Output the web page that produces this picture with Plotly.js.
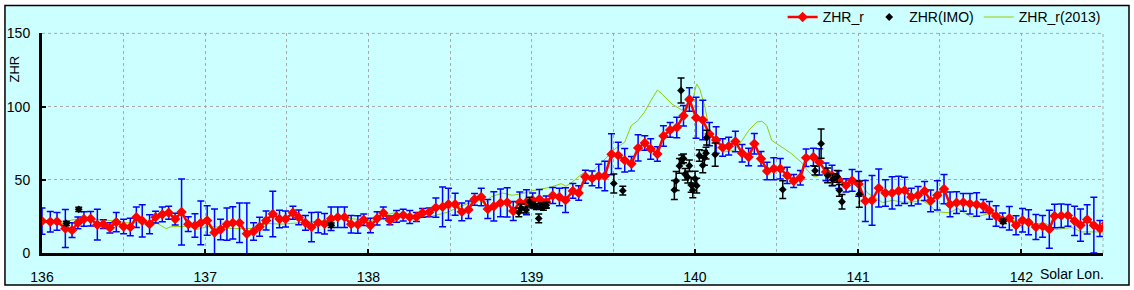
<!DOCTYPE html>
<html>
<head>
<meta charset="utf-8">
<script src="https://cdn.plot.ly/plotly-3.0.1.min.js"></script>
<style>html,body{margin:0;padding:0;background:#fff}#chart{width:1134px;height:290px}</style>
</head>
<body>
<div id="chart"></div>
<script>
// ZHR_r (red) : solar longitude, ZHR, error
const zhrR_lon = [136.000,136.051,136.092,136.143,136.184,136.220,136.257,136.298,136.339,136.376,136.416,136.455,136.500,136.541,136.578,136.614,136.659,136.696,136.737,136.776,136.816,136.855,136.896,136.937,136.973,137.012,137.057,137.094,137.133,137.169,137.210,137.255,137.296,137.333,137.373,137.414,137.455,137.492,137.537,137.573,137.614,137.651,137.692,137.731,137.771,137.812,137.853,137.894,137.935,137.971,138.012,138.053,138.091,138.131,138.172,138.213,138.253,138.294,138.331,138.372,138.413,138.454,138.490,138.531,138.572,138.613,138.650,138.691,138.731,138.768,138.809,138.850,138.887,138.927,138.968,139.006,139.047,139.089,139.129,139.170,139.207,139.252,139.288,139.329,139.370,139.411,139.448,139.489,139.530,139.570,139.611,139.652,139.693,139.729,139.770,139.807,139.848,139.889,139.930,139.966,140.007,140.048,140.089,140.130,140.170,140.207,140.248,140.289,140.329,140.364,140.405,140.442,140.483,140.523,140.565,140.605,140.646,140.681,140.726,140.762,140.803,140.840,140.881,140.926,140.963,141.003,141.044,141.085,141.126,141.167,141.208,141.248,141.285,141.326,141.367,141.407,141.444,141.485,141.526,141.563,141.603,141.644,141.685,141.726,141.767,141.804,141.845,141.885,141.926,141.967,142.007,142.044,142.089,142.130,142.171,142.203,142.244,142.285,142.326,142.362,142.403,142.444,142.481,142.518];
const zhrR_val = [21.8,21.3,21.6,16.7,15.6,20.6,23.2,23.4,19.3,19.7,17.2,21.1,18.1,17.7,24.5,22.0,19.7,24.5,26.4,27.5,23.2,28.0,19.7,18.8,20.6,22.2,14.0,16.1,19.7,20.6,20.6,13.1,14.7,17.9,22.2,26.6,23.2,23.2,27.5,24.3,20.6,17.7,20.9,20.0,23.4,24.5,24.5,19.7,19.5,22.7,18.8,23.6,27.4,22.3,25.0,25.9,24.6,24.6,27.4,27.8,31.0,31.5,33.3,33.3,28.1,29.6,36.7,38.3,30.1,31.9,34.2,34.6,28.7,34.6,34.7,36.0,36.8,34.9,39.3,38.3,36.1,42.4,41.0,52.1,51.0,52.6,52.6,67.5,66.7,63.3,61.0,71.8,75.1,71.1,67.6,80.0,84.1,85.8,93.8,104.9,92.4,90.9,81.2,77.2,72.1,73.0,76.2,68.1,65.6,74.7,64.4,56.0,57.6,57.6,53.0,49.2,51.4,65.0,65.6,62.2,55.4,53.0,50.1,46.2,49.6,47.2,35.6,36.0,44.4,41.0,41.0,42.4,42.8,38.3,39.4,42.4,35.6,39.4,43.7,33.2,34.4,34.6,33.7,33.1,32.1,29.1,25.3,22.4,23.7,19.0,22.4,21.0,17.8,18.2,16.2,25.3,25.5,25.7,21.9,19.0,22.9,19.0,16.7,20.1];
const zhrR_err = [9,7,6,13,5,4,5,5,10.5,3,3.5,6.5,5,6,7,11,6.5,4,5,4.5,4,22.5,5,8,15,10,16,7,11,11,13.5,21,6,6.5,6.5,15.5,6,5.5,4.5,5,5,10,7,7,8,7,7,6,6,4,5,4.5,4,3,4,4,4.5,3,3,3,6.5,13.5,11,7.5,6,6,4,6,6.5,10,9.5,10,6.5,7,8.5,5,6.5,4,5.5,6,8.5,5,5,4.5,5,8,10,14,9,8,5,9,5,7,5,7,5,7,7,8,14,13.5,8,9,6,6,7,6,6,7,5,6,7.5,7,5.5,4.5,5,6,6,9,6,7,6,4.5,7.5,8.5,14,17,13,9,11,10,9,6,6,6.5,7.5,10,10,8.5,7.5,6,7,8,4.5,6,7,5,8,6.5,8,8.5,8.5,7.5,13,8,8,7.5,10,11,10,19,5.5,5];

// ZHR(IMO) (black)
const imo_lon = [136.149,136.225,137.772,138.921,138.936,138.966,138.986,139.007,139.028,139.043,139.058,139.072,139.089,139.503,139.558,139.874,139.885,139.905,139.915,139.919,139.930,139.940,139.956,139.966,139.977,139.987,140.001,140.011,140.027,140.048,140.058,140.068,140.072,140.124,140.538,140.736,140.773,140.813,140.844,140.871,140.885,140.901,141.007,141.889];
const imo_val = [20.2,29.8,19.0,27.8,30.5,29.4,35.1,32.8,31.7,23.6,32.1,31.2,32.6,47.5,42.6,43.1,49.2,59.5,111.0,64.0,64.6,53.8,51.8,59.6,46.5,42.8,50.8,46.0,66.6,59.9,65.0,68.2,78.8,67.2,43.3,56.2,74.7,53.0,50.1,52.3,42.8,35.0,40.2,21.6];
const imo_err = [1.5,1.5,1.5,3,3,2,3,2,2,3,2,2,2,6.5,3,6.5,6.5,5,8.5,3,3,4,4,4,5,5,5,5,4,5,5,4,5,8,6,3,10,5,4,4,4,5,9,1.5];

// ZHR_r(2013) (green)
const r2013_lon = [136.00,136.09,136.14,136.18,136.25,136.35,136.46,136.52,136.62,136.70,136.76,136.79,136.89,136.95,137.01,137.06,137.17,137.24,137.29,137.38,137.47,137.58,137.68,137.78,137.88,137.99,138.02,138.05,138.10,138.16,138.25,138.31,138.37,138.43,138.49,138.55,138.61,138.68,138.71,138.75,138.82,138.88,138.94,139.00,139.06,139.12,139.18,139.21,139.25,139.29,139.34,139.38,139.45,139.51,139.57,139.61,139.65,139.69,139.73,139.77,139.80,139.86,139.92,139.96,139.99,140.01,140.03,140.06,140.08,140.10,140.13,140.18,140.24,140.29,140.33,140.38,140.41,140.44,140.47,140.53,140.59,140.65,140.69,140.73,140.78,140.82,140.86,140.90,140.93,140.98,141.02,141.06,141.10,141.15,141.21,141.27,141.33,141.39,141.44,141.48,141.56,141.61,141.69,141.74,141.80,141.86,141.99,142.07,142.15,142.21,142.31,142.37,142.52];
const r2013_val = [22.5,20.6,20.6,22.5,23.6,22.5,21.8,20.6,20.6,20.6,16.7,17.9,18.3,16.1,17.9,17.9,16.7,16.7,16.7,20.2,19.7,20.6,21.3,22.5,23.6,22.5,22.3,21.6,25.7,27.5,26.2,25.1,24.6,26.4,28.0,31.4,33.8,36.0,33.8,38.3,41.0,39.4,40.5,42.4,43.9,45.1,47.4,45.6,48.6,52.4,56.4,56.4,64.3,71.1,75.7,87.0,90.4,96.1,104.0,111.3,108.5,101.7,97.6,99.4,106.2,115.5,112.0,100.5,89.0,81.0,72.4,69.0,70.2,77.0,83.8,89.5,90.0,87.2,77.0,72.4,68.0,62.2,56.4,51.9,53.5,53.0,50.8,50.8,49.6,50.8,47.4,40.6,38.3,34.4,36.0,34.8,34.8,36.0,32.6,28.2,27.5,30.5,24.6,25.0,26.9,24.6,21.2,20.1,20.1,16.1,17.4,14.4,14.4];

const xTicks = [136,137,138,139,140,141,142];
const yTicks = [0,50,100,150];

const font = "'Liberation Sans', Arial, sans-serif";
const gridStyle = {color: '#A8A8A8', dash: '3px,3px'};

const traces = [
  {
    name: 'ZHR_r(2013)', x: r2013_lon, y: r2013_val, type: 'scatter', mode: 'lines',
    line: {color: '#99CC00', width: 1}, legendrank: 3
  },
  {
    name: 'ZHR_r', x: zhrR_lon, y: zhrR_val, type: 'scatter', mode: 'lines+markers',
    line: {color: '#FF0000', width: 2.5},
    marker: {symbol: 'diamond', size: 8, color: '#FF0000'},
    error_y: {type: 'data', array: zhrR_err, visible: true, color: '#0000FF', thickness: 1.5, width: 3.5},
    legendrank: 1
  },
  {
    name: 'ZHR(IMO)', x: imo_lon, y: imo_val, type: 'scatter', mode: 'markers',
    marker: {symbol: 'diamond', size: 6, color: '#000000'},
    error_y: {type: 'data', array: imo_err, visible: true, color: '#000000', thickness: 1.5, width: 3.5},
    legendrank: 2
  }
];

const layout = {
  width: 1134, height: 290,
  margin: {l: 42, r: 31, t: 33, b: 37},
  paper_bgcolor: '#FFFFFF',
  plot_bgcolor: 'rgba(0,0,0,0)',
  font: {family: font, size: 14, color: '#000'},
  showlegend: true,
  legend: {
    orientation: 'h', xref: 'container', yref: 'container',
    x: 0.975, xanchor: 'right', y: 0.94, yanchor: 'middle',
    bgcolor: 'rgba(0,0,0,0)', font: {family: font, size: 14, color: '#000'},
    traceorder: 'normal', itemwidth: 30
  },
  xaxis: {
    range: [136, 142.5], tickvals: xTicks, ticktext: xTicks.map(String),
    showgrid: true, gridcolor: gridStyle.color, griddash: gridStyle.dash, gridwidth: 1,
    minor: {dtick: 0.5, showgrid: true, gridcolor: gridStyle.color, griddash: gridStyle.dash, gridwidth: 1},
    showline: true, linecolor: '#000', linewidth: 3,
    ticks: 'inside', ticklen: 4, tickwidth: 2, tickcolor: '#000',
    zeroline: false, ticklabelstandoff: 9,
    tickfont: {family: font, size: 14, color: '#000'}
  },
  yaxis: {
    range: [0, 150], tickvals: yTicks,
    showgrid: true, gridcolor: gridStyle.color, griddash: gridStyle.dash, gridwidth: 1,
    showline: true, linecolor: '#000', linewidth: 3,
    ticks: 'inside', ticklen: 4, tickwidth: 2, tickcolor: '#000',
    zeroline: false, ticklabelstandoff: 6,
    tickfont: {family: font, size: 14, color: '#000'}
  },
  shapes: [
    {type: 'rect', xref: 'paper', yref: 'paper', x0: -0.0349, x1: 1.0245, y0: -0.1455, y1: 1.127,
     fillcolor: '#CCFFFF', line: {color: '#000', width: 1.5}, layer: 'below'},
    {type: 'line', xref: 'paper', yref: 'paper', x0: 1, x1: 1, y0: 0, y1: 1,
     line: {color: gridStyle.color, width: 1, dash: gridStyle.dash}, layer: 'below'},
    {type: 'line', xref: 'paper', yref: 'paper', x0: 0, x1: 1, y0: 1, y1: 1,
     line: {color: gridStyle.color, width: 1, dash: gridStyle.dash}, layer: 'below'}
  ],
  annotations: [
    {text: 'ZHR', xref: 'paper', yref: 'paper', x: -0.0255, y: 0.84, xanchor: 'center', yanchor: 'middle', textangle: -90,
     showarrow: false, font: {family: font, size: 13, color: '#000'}},
    {text: 'Solar Lon.', xref: 'paper', yref: 'paper', x: 0.9705, y: -0.097, xanchor: 'center', yanchor: 'middle',
     showarrow: false, font: {family: font, size: 14, color: '#000'}}
  ]
};

Plotly.newPlot('chart', traces, layout, {displayModeBar: false, staticPlot: true});
</script>
</body>
</html>
